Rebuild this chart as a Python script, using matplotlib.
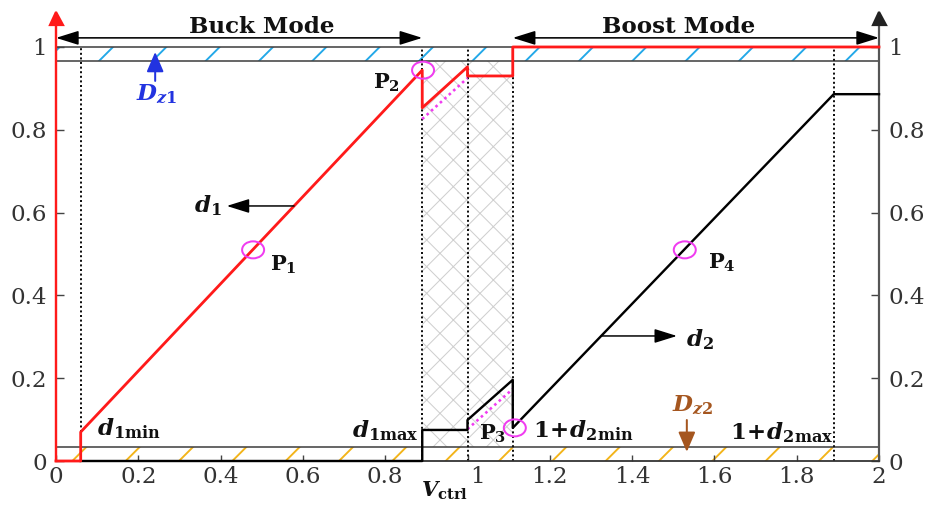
import numpy as np
import matplotlib
matplotlib.use("Agg")
import matplotlib.pyplot as plt
from matplotlib.patches import Ellipse
from matplotlib.transforms import ScaledTranslation

DPI = 160


def pt(p):
    """pixels -> points at the figure resolution"""
    return p * 72.0 / DPI


# ---- data -------------------------------------------------------------
# duty cycle of the buck leg (d1) versus control voltage
d1_x = [0.0, 0.06, 0.06, 0.89, 0.89, 1.0, 1.0, 1.11, 1.11, 2.0]
d1_y = [0.0, 0.0, 0.07, 0.944, 0.853, 0.952, 0.930, 0.930, 1.0, 1.0]
# duty cycle of the boost leg (1 + d2) versus control voltage
d2_x = [0.06, 0.89, 0.89, 1.0, 1.0, 1.11, 1.11, 1.89, 2.0]
d2_y = [0.0, 0.0, 0.075, 0.075, 0.099, 0.196, 0.080, 0.886, 0.886]
# uncompensated ramps inside the transition zone
ramp1_x = [0.89, 1.0]
ramp1_y = [0.826, 0.925]
ramp2_x = [1.0, 1.11]
ramp2_y = [0.077, 0.174]

# dead-zone bands
dz1_band = (0.966, 1.0)
dz2_band = (0.0, 0.035)
transition_x = (0.89, 1.11)

# vertical guide lines
guide_x = [0.06, 0.89, 1.0, 1.11, 1.89]
guide_y0 = [0.07, 0.0, 0.0, 0.0, 0.0]
guide_y1 = [1.0, 1.0, 1.0, 1.0, 1.0]

# operating points
p_names = ["1", "2", "3", "4"]
p_x = [0.479, 0.892, 1.115, 1.528]
p_y = [0.51, 0.944, 0.08, 0.51]

x_ticks = [0, 0.2, 0.4, 0.6, 0.8, 1.0, 1.2, 1.4, 1.6, 1.8, 2.0]
x_tick_labels = ["0", "0.2", "0.4", "0.6", "0.8", "1", "1.2", "1.4", "1.6", "1.8", "2"]
y_ticks = [0, 0.2, 0.4, 0.6, 0.8, 1.0]
y_tick_labels = ["0", "0.2", "0.4", "0.6", "0.8", "1"]

# ---- style ------------------------------------------------------------
plt.rcParams["font.family"] = ["DejaVu Serif"]
plt.rcParams["mathtext.fontset"] = "custom"
plt.rcParams["mathtext.rm"] = "DejaVu Serif:bold"
plt.rcParams["mathtext.bf"] = "DejaVu Serif:bold"
plt.rcParams["mathtext.it"] = "DejaVu Serif:italic:bold"
plt.rcParams["hatch.linewidth"] = pt(1.9)

RED = "#ff1a1a"
BLUE_HATCH = "#22a8e8"
ORANGE_HATCH = "#f3b419"
MAGENTA = "#f03cf0"
DZ1_COL = "#2233e0"
DZ2_COL = "#a5561f"

fig = plt.figure(figsize=(926 / DPI, 506 / DPI), dpi=DPI)
ax = fig.add_axes([56 / 926, 45 / 506, 823 / 926, 443 / 506])
YTOP = 1.07
ax.set_xlim(0, 2)
ax.set_ylim(0, YTOP)

# hatched dead-zone bands and transition zone
ax.fill_between([0, 2], dz1_band[0], dz1_band[1], facecolor="none",
                edgecolor=BLUE_HATCH, hatch="/", linewidth=0, zorder=1)
ax.fill_between([0, 2], dz2_band[0], dz2_band[1], facecolor="none",
                edgecolor=ORANGE_HATCH, hatch="/", linewidth=0, zorder=1)
with plt.rc_context({"hatch.linewidth": pt(1.0)}):
    ax.fill_between(list(transition_x), dz2_band[1], dz1_band[0], facecolor="none",
                    edgecolor="#cfcfcf", hatch="xx", linewidth=0, zorder=1)
ax.hlines([dz1_band[1], dz1_band[0], dz2_band[1]], 0, 2, color="#444444",
          lw=pt(1.6), zorder=2)

# guides
ax.vlines(guide_x, guide_y0, guide_y1, color="#111111", lw=pt(2.0),
          linestyles=(0, (1, 1.3)), zorder=2)

# traces
ax.plot(ramp1_x, ramp1_y, color=MAGENTA, lw=pt(2.6), ls=(0, (1, 1.3)), zorder=3)
ax.plot(ramp2_x, ramp2_y, color=MAGENTA, lw=pt(2.6), ls=(0, (1, 1.3)), zorder=3)
ax.plot(d2_x, d2_y, color="black", lw=pt(2.4), zorder=4, clip_on=False)
ax.plot(d1_x, d1_y, color=RED, lw=pt(2.8), zorder=5, clip_on=False)

# operating point markers
for px_, py_ in zip(p_x, p_y):
    ax.add_patch(Ellipse((px_, py_), 22 / 411.5, 17 / 414, facecolor="none",
                         edgecolor=MAGENTA, lw=pt(2.0), zorder=6))

# spines and axis arrows
ax.spines["top"].set_visible(False)
ax.spines["left"].set_color(RED)
ax.spines["left"].set_linewidth(pt(2.4))
ax.spines["right"].set_color("#555555")
ax.spines["right"].set_linewidth(pt(2.2))
ax.spines["bottom"].set_color("#333333")
ax.spines["bottom"].set_linewidth(pt(1.8))
ax.plot([0], [YTOP], marker="^", color=RED, ms=pt(13), clip_on=False, zorder=7)
ax.plot([2], [YTOP], marker="^", color="#222222", ms=pt(13), clip_on=False, zorder=7)

# ticks
tick_fs = pt(23)
ax.set_xticks(x_ticks)
ax.set_xticklabels(x_tick_labels)
ax.set_yticks(y_ticks)
ax.set_yticklabels(y_tick_labels)
ax.tick_params(axis="x", direction="in", length=pt(6), width=pt(1.4),
               color="#444444", labelsize=tick_fs, labelcolor="#333333", pad=pt(5))
ax.tick_params(axis="y", direction="in", length=pt(8), width=pt(1.4),
               color="#444444", labelsize=tick_fs, labelcolor="#333333",
               left=True, right=True, labelleft=True, labelright=True, pad=pt(9))
# the "1" label sits slightly right of its tick
one_lab = ax.get_xticklabels()[5]
one_lab.set_transform(one_lab.get_transform()
                      + ScaledTranslation(10 / DPI, 0, fig.dpi_scale_trans))

# mode spans
arrow_y = 1.022
mode_style = "<|-|>,head_length=0.8,head_width=0.25"
for xa, xb in [(0.0, 0.89), (1.11, 2.0)]:
    ax.annotate("", xy=(xa, arrow_y), xytext=(xb, arrow_y),
                arrowprops=dict(arrowstyle=mode_style, color="black", lw=pt(1.6),
                                mutation_scale=pt(24), shrinkA=0, shrinkB=0),
                annotation_clip=False, zorder=7)
mode_fs = pt(23)
ax.text(0.50, 1.048, "Buck Mode", ha="center", va="center", fontsize=mode_fs,
        fontweight="bold", color="#111111", clip_on=False, zorder=8)
ax.text(1.514, 1.048, "Boost Mode", ha="center", va="center", fontsize=mode_fs,
        fontweight="bold", color="#111111", clip_on=False, zorder=8)

# direction arrows for d1 and d2
head = "-|>,head_length=0.8,head_width=0.25"
d1_arrow_y = 0.616
d1_tail = np.interp(d1_arrow_y, [d1_y[2], d1_y[3]], [d1_x[2], d1_x[3]])
ax.annotate("", xy=(0.415, d1_arrow_y), xytext=(d1_tail, d1_arrow_y),
            arrowprops=dict(arrowstyle=head, color="black", lw=pt(1.5),
                            mutation_scale=pt(24), shrinkA=0, shrinkB=0), zorder=7)
d2_arrow_y = 0.302
d2_tail = np.interp(d2_arrow_y, [d2_y[6], d2_y[7]], [d2_x[6], d2_x[7]])
ax.annotate("", xy=(1.509, d2_arrow_y), xytext=(d2_tail, d2_arrow_y),
            arrowprops=dict(arrowstyle=head, color="black", lw=pt(1.5),
                            mutation_scale=pt(24), shrinkA=0, shrinkB=0), zorder=7)

lab_fs = pt(23)
ax.text(0.37, d1_arrow_y, r"$d_{\mathrm{1}}$", ha="center", va="center",
        fontsize=lab_fs, color="#111111", zorder=8)
ax.text(1.565, d2_arrow_y - 0.008, r"$d_{\mathrm{2}}$", ha="center", va="center",
        fontsize=lab_fs, color="#111111", zorder=8)

# point labels
p_lab_x = [0.552, 0.804, 1.062, 1.618]
p_lab_y = [0.473, 0.913, 0.066, 0.478]
for name, lx, ly in zip(p_names, p_lab_x, p_lab_y):
    ax.text(lx, ly, r"$\mathrm{P}_{\mathrm{%s}}$" % name, ha="center", va="center",
            fontsize=pt(21), color="#111111", zorder=8)

# limit labels
ax.text(0.10, 0.078, r"$d_{\mathrm{1min}}$", ha="left", va="center",
        fontsize=lab_fs, color="#111111", zorder=8)
ax.text(0.88, 0.074, r"$d_{\mathrm{1max}}$", ha="right", va="center",
        fontsize=lab_fs, color="#111111", zorder=8)
ax.text(1.16, 0.072, r"$\mathrm{1\!+\!}d_{\mathrm{2min}}$", ha="left", va="center",
        fontsize=lab_fs, color="#111111", zorder=8)
ax.text(1.888, 0.068, r"$\mathrm{1\!+\!}d_{\mathrm{2max}}$", ha="right", va="center",
        fontsize=lab_fs, color="#111111", zorder=8)

# dead-zone markers
dz_style = "-|>,head_length=0.7,head_width=0.3"
ax.annotate("", xy=(0.241, 0.988), xytext=(0.241, 0.918),
            arrowprops=dict(arrowstyle=dz_style, color=DZ1_COL, lw=pt(2.0),
                            mutation_scale=pt(24), shrinkA=0, shrinkB=0), zorder=7)
ax.text(0.245, 0.887, r"$D_{z\mathrm{1}}$", ha="center", va="center",
        fontsize=lab_fs, color=DZ1_COL, zorder=8)
ax.annotate("", xy=(1.533, 0.022), xytext=(1.533, 0.099),
            arrowprops=dict(arrowstyle=dz_style, color=DZ2_COL, lw=pt(2.0),
                            mutation_scale=pt(24), shrinkA=0, shrinkB=0), zorder=7)
ax.text(1.548, 0.137, r"$D_{z\mathrm{2}}$", ha="center", va="center",
        fontsize=lab_fs, color=DZ2_COL, zorder=8)

# axis name
ax.text(0.945, -0.073, r"$V_{\mathrm{ctrl}}$", ha="center", va="center",
        fontsize=pt(21), color="#111111", clip_on=False, zorder=8)

fig.savefig("out.png", dpi=DPI, facecolor="white")
